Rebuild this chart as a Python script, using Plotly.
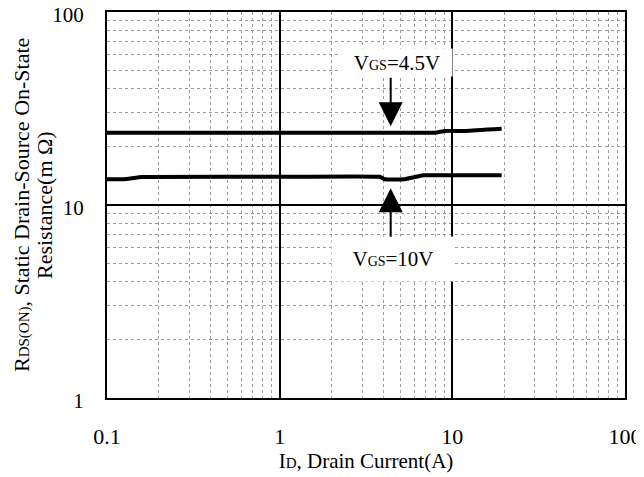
import plotly.graph_objects as go

# Data
id_45 = [0.1, 0.3, 1, 3, 7.9, 9.1, 12, 19.3]
r_45 = [23.7, 23.7, 23.7, 23.7, 23.7, 24.2, 24.2, 24.8]

id_10 = [0.1, 0.125, 0.16, 0.5, 1, 3.8, 4.05, 5.3, 6.8, 10, 19.3]
r_10 = [13.6, 13.6, 13.95, 14.0, 14.0, 14.0, 13.6, 13.6, 14.25, 14.25, 14.25]

x_ticks = [0.1, 1, 10, 100]
x_tick_text = ["0.1", "1", "10", "100"]
y_ticks = [1, 10, 100]
y_tick_text = ["1", "10", "100"]

FONT = "Liberation Serif"

fig = go.Figure()
fig.add_trace(go.Scatter(x=id_45, y=r_45, mode="lines",
                         line=dict(color="black", width=4, shape="spline", smoothing=0.3),
                         showlegend=False, hoverinfo="skip"))
fig.add_trace(go.Scatter(x=id_10, y=r_10, mode="lines",
                         line=dict(color="black", width=4, shape="spline", smoothing=0.3),
                         showlegend=False, hoverinfo="skip"))

minor = dict(dtick="D1", showgrid=True, gridcolor="#9a9a9a", griddash="dot",
             gridwidth=1, ticks="")

fig.update_xaxes(type="log", range=[-1, 2], tickvals=x_ticks, ticktext=x_tick_text,
                 showgrid=True, gridcolor="black", gridwidth=2, automargin=False,
                 showline=True, linecolor="black", linewidth=2, mirror=True,
                 ticks="", ticklabelstandoff=18, minor=minor, zeroline=False,
                 ticklabeloverflow="allow",
                 tickfont=dict(family=FONT, size=22, color="black"),
                 title=dict(text="I<span style='font-size:15px'>D</span>, Drain Current(A)",
                            font=dict(family=FONT, size=21, color="black"), standoff=0))
fig.update_yaxes(type="log", range=[0, 2], tickvals=y_ticks, ticktext=y_tick_text,
                 showgrid=True, gridcolor="black", gridwidth=2, automargin=False,
                 showline=True, linecolor="black", linewidth=2, mirror=True,
                 ticks="", ticklabelstandoff=17, ticklabelshift=3, minor=minor,
                 zeroline=False, ticklabeloverflow="allow",
                 tickfont=dict(family=FONT, size=21, color="black"))

# y-axis title (two lines, placed individually to match line spacing)
fig.add_annotation(x=-0.1660, y=0.5, xref="paper", yref="paper", showarrow=False,
                   xanchor="center", yanchor="middle", textangle=-90,
                   text="R<span style='font-size:15px'>DS(ON)</span>, Static Drain-Source On-State",
                   font=dict(family=FONT, size=22, color="black"))
fig.add_annotation(x=-0.1216, y=0.5, xref="paper", yref="paper", showarrow=False,
                   xanchor="center", yanchor="middle", textangle=-90,
                   text="Resistance(m Ω)",
                   font=dict(family=FONT, size=22, color="black"))

# label boxes
fig.add_annotation(x=0.68, y=1.737, xref="x", yref="y", showarrow=False,
                   text="V<span style='font-size:14px'>GS</span>=4.5V",
                   font=dict(family=FONT, size=21, color="black"),
                   bgcolor="white", width=108, height=25)
fig.add_annotation(x=0.659, y=0.7187, xref="x", yref="y", showarrow=False,
                   text="V<span style='font-size:14px'>GS</span>=10V",
                   font=dict(family=FONT, size=21, color="black"),
                   bgcolor="white", width=120, height=42)
# arrows
fig.add_annotation(x=0.643, y=1.408, ax=0.643, ay=1.667, xref="x", yref="y",
                   axref="x", ayref="y", text="", showarrow=True,
                   arrowhead=2, arrowsize=2.4, arrowwidth=2, arrowcolor="black")
fig.add_annotation(x=0.643, y=1.0865, ax=0.643, ay=0.8275, xref="x", yref="y",
                   axref="x", ayref="y", text="", showarrow=True,
                   arrowhead=2, arrowsize=2.4, arrowwidth=2, arrowcolor="black")

fig.update_layout(width=636, height=469,
                  margin=dict(l=99, r=19, t=4, b=79),
                  plot_bgcolor="white", paper_bgcolor="white",
                  font=dict(family=FONT, color="black"))

fig.write_html("out.html")
